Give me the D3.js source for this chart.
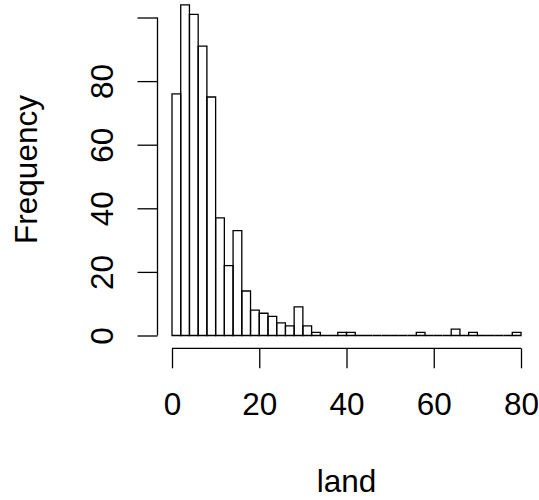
<!DOCTYPE html>
<html>
<head>
<meta charset="utf-8">
<script src="https://cdn.jsdelivr.net/npm/d3@7"></script>
<style>
  html, body { margin: 0; padding: 0; background: #fff; }
  svg { display: block; }
  text { font-family: "Liberation Sans", Arial, Helvetica, sans-serif; fill: #000; }
</style>
</head>
<body>
<script>
// Histogram of "land": bins of width 2 from 0 to 80
const binStarts = d3.range(0, 80, 2);
const binWidth = 2;
const counts = [76, 104, 101, 91, 75, 37, 22, 33, 14, 8,
                7, 6, 4, 3, 9, 3, 1, 0, 0, 1,
                1, 0, 0, 0, 0, 0, 0, 0, 1, 0,
                0, 0, 2, 0, 1, 0, 0, 0, 0, 1];
const xTicks = [0, 20, 40, 60, 80];
const yTicks = [0, 20, 40, 60, 80, 100];
const yTickLabels = ["0", "20", "40", "60", "80", ""];
const xTitle = "land";
const yTitle = "Frequency";

const W = 539, H = 500;
const FS = 31.5;
const svg = d3.select("body").append("svg").attr("width", W).attr("height", H);

const x = d3.scaleLinear().domain([0, 80]).range([172, 521]);
const y = d3.scaleLinear().domain([0, 100]).range([335.5, 17.5]);

const bins = binStarts.map((s, i) => ({ x0: s, x1: s + binWidth, n: counts[i] }));

// draw bars as closed paths so zero-count bins still show as flat outlines
svg.append("g").selectAll("path").data(bins).join("path")
  .attr("d", d => `M${x(d.x0)},${y(0)}V${y(d.n)}H${x(d.x1)}V${y(0)}Z`)
  .attr("fill", "none")
  .attr("stroke", "#000")
  .attr("stroke-width", 1.3);

// x axis (R style, below plot)
const xAxis = d3.axisBottom(x).tickValues(xTicks).tickSize(20).tickSizeOuter(0).tickPadding(0)
  .tickFormat(d3.format("d"));
const gx = svg.append("g").attr("transform", "translate(0,348.3)").call(xAxis);
gx.select(".domain").attr("stroke", "#000").attr("stroke-width", 1.3)
  .attr("d", `M${x(0)},0H${x(80)}`);
gx.selectAll(".tick line").attr("stroke", "#000").attr("stroke-width", 1.3);
gx.selectAll(".tick text").attr("font-size", FS).attr("dy", null).attr("y", 66.7)
  .attr("font-family", "Liberation Sans, Arial, sans-serif");

// y axis
const yAxis = d3.axisLeft(y).tickValues(yTicks).tickSize(20).tickSizeOuter(0).tickPadding(0)
  .tickFormat((d, i) => yTickLabels[i]);
const gy = svg.append("g").attr("transform", "translate(157.5,0)").call(yAxis);
gy.select(".domain").attr("stroke", "#000").attr("stroke-width", 1.3)
  .attr("d", `M0,${y(0)}V${y(100)}`);
gy.selectAll(".tick line").attr("stroke", "#000").attr("stroke-width", 1.3);
gy.selectAll(".tick text")
  .attr("font-size", FS).attr("x", null).attr("dy", null)
  .attr("text-anchor", "middle")
  .attr("transform", "translate(-44.5,0) rotate(-90)")
  .attr("font-family", "Liberation Sans, Arial, sans-serif");

// axis titles
svg.append("text").attr("x", 346.5).attr("y", 492).attr("text-anchor", "middle")
  .attr("font-size", FS).text(xTitle);
svg.append("text").attr("transform", "translate(37,169.5) rotate(-90)")
  .attr("text-anchor", "middle").attr("font-size", FS).text(yTitle);
</script>
</body>
</html>
